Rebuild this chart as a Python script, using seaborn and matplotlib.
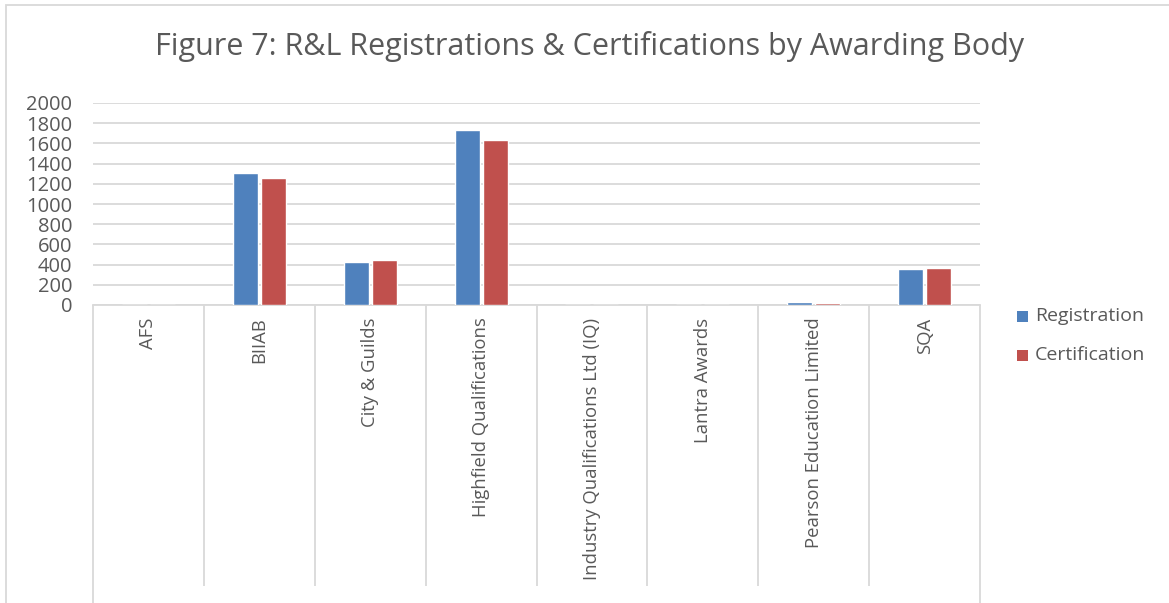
import matplotlib
matplotlib.use("Agg")
import matplotlib.pyplot as plt
import seaborn as sns
import pandas as pd
import numpy as np

# values
bodies = ["AFS", "BIIAB", "City & Guilds", "Highfield Qualifications",
          "Industry Qualifications Ltd (IQ)", "Lantra Awards",
          "Pearson Education Limited", "SQA"]
registration = [0, 1302, 422, 1730, 0, 0, 25, 353]
certification = [0, 1253, 445, 1638, 0, 0, 22, 363]
series = ["Registration", "Certification"]
y_ticks = list(range(0, 2001, 200))

df = pd.DataFrame({
    "body": bodies * 2,
    "count": registration + certification,
    "series": [series[0]] * len(bodies) + [series[1]] * len(bodies),
})

sns.set_style("white")
plt.rcParams["font.family"] = ["Open Sans", "DejaVu Sans"]
text_col = "#595959"
grid_col = "#d9d9d9"
colors = ["#4F81BD", "#C0504D"]

W, H = 1169, 603
fig = plt.figure(figsize=(W / 100, H / 100), dpi=100)
ax = fig.add_axes([93 / W, 1 - 305 / H, (980 - 93) / W, (305 - 103) / H])

sns.barplot(data=df, x="body", y="count", hue="series", order=bodies,
            hue_order=series, palette=colors,
            width=0.505, gap=0.11, saturation=1, ax=ax, legend=False)

ax.set_xlim(-0.5, len(bodies) - 0.5)
ax.set_ylim(0, 2000)
ax.set_yticks(y_ticks)
ax.set_yticklabels([str(v) for v in y_ticks], fontsize=14.5, color=text_col)
ax.yaxis.grid(True, color=grid_col, linewidth=1.3)
ax.set_axisbelow(True)
ax.tick_params(axis="y", length=0, pad=15)
ax.set_xlabel("")
ax.set_ylabel("")
for s in ["top", "right", "left"]:
    ax.spines[s].set_visible(False)
ax.spines["bottom"].set_color(grid_col)
ax.spines["bottom"].set_linewidth(1.3)
ax.spines["bottom"].set_zorder(0.5)

ax.set_xticks(range(len(bodies)))
ax.set_xticklabels(bodies, rotation=90, fontsize=13.3, color=text_col,
                   va="top", ha="center")
ax.tick_params(axis="x", length=0, pad=9)

# category separators below the axis
px = 1 / (305 - 103)
trans = ax.get_xaxis_transform()
inner = np.arange(0.5, len(bodies) - 1, 1.0)
ax.vlines(inner, -(586 - 305) * px, 0, transform=trans, colors=grid_col,
          linewidth=1.3, clip_on=False)
ax.vlines([-0.5, len(bodies) - 0.5], -(620 - 305) * px, 0, transform=trans,
          colors=grid_col, linewidth=1.3, clip_on=False)

# legend
for i, (name, col) in enumerate(zip(series, colors)):
    yc = 1 - (316 + 39 * i) / H
    fig.patches.append(plt.Rectangle((1017 / W, yc - 5.5 / H), 11 / W, 11 / H,
                                     transform=fig.transFigure,
                                     facecolor=col, edgecolor="none"))
    fig.text(1035 / W, yc, name, fontsize=14, color=text_col, va="center",
             ha="left")

fig.suptitle("Figure 7: R&L Registrations & Certifications by Awarding Body",
             x=590 / W, y=1 - 47 / H, fontsize=22, color=text_col,
             va="center")

# chart frame
fig.patches.append(plt.Rectangle((6 / W, -0.1), 1.2, 1.1 - 5 / H,
                                 transform=fig.transFigure, fill=False,
                                 edgecolor=grid_col, linewidth=1.3))

fig.savefig("out.png", dpi=100)
